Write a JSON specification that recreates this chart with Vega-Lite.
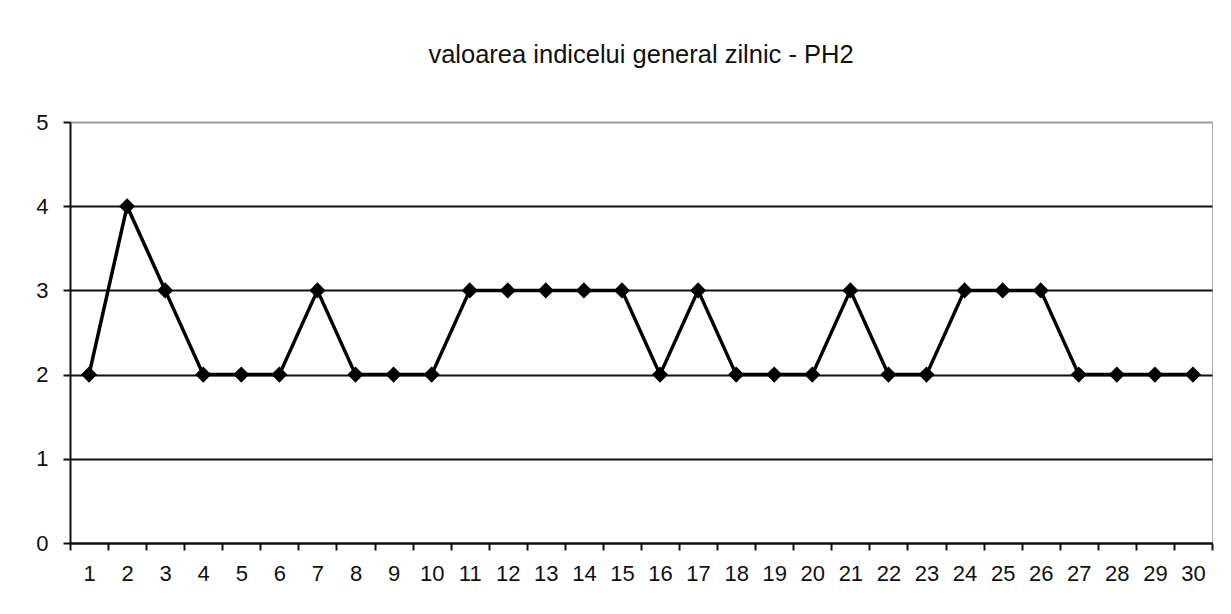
{
  "$schema": "https://vega.github.io/schema/vega-lite/v6.json",
  "autosize": {"type": "none"},
  "width": 1142,
  "height": 421,
  "padding": {"left": 70, "top": 122, "right": 19, "bottom": 71},
  "background": "white",
  "config": {
    "font": "Liberation Sans",
    "view": {"stroke": "#aaaaaa", "strokeWidth": 1}
  },
  "title": {
    "text": "valoarea indicelui general zilnic - PH2",
    "font": "Liberation Sans",
    "fontSize": 25.5,
    "fontWeight": "normal",
    "color": "#111111",
    "anchor": "middle",
    "offset": 43
  },
  "data": {
    "values": [
      {"zi": 1, "v": 2}, {"zi": 2, "v": 4}, {"zi": 3, "v": 3}, {"zi": 4, "v": 2},
      {"zi": 5, "v": 2}, {"zi": 6, "v": 2}, {"zi": 7, "v": 3}, {"zi": 8, "v": 2},
      {"zi": 9, "v": 2}, {"zi": 10, "v": 2}, {"zi": 11, "v": 3}, {"zi": 12, "v": 3},
      {"zi": 13, "v": 3}, {"zi": 14, "v": 3}, {"zi": 15, "v": 3}, {"zi": 16, "v": 2},
      {"zi": 17, "v": 3}, {"zi": 18, "v": 2}, {"zi": 19, "v": 2}, {"zi": 20, "v": 2},
      {"zi": 21, "v": 3}, {"zi": 22, "v": 2}, {"zi": 23, "v": 2}, {"zi": 24, "v": 3},
      {"zi": 25, "v": 3}, {"zi": 26, "v": 3}, {"zi": 27, "v": 2}, {"zi": 28, "v": 2},
      {"zi": 29, "v": 2}, {"zi": 30, "v": 2}
    ]
  },
  "encoding": {
    "x": {
      "field": "zi",
      "type": "ordinal",
      "scale": {"paddingInner": 0, "paddingOuter": 0},
      "axis": {
        "title": null,
        "labelAngle": 0,
        "labelFont": "Liberation Sans",
        "labelFontSize": 22,
        "labelColor": "#111111",
        "labelPadding": 13,
        "tickBand": "extent",
        "tickSize": 7,
        "tickColor": "#111111",
        "tickWidth": 2,
        "domainColor": "#111111",
        "domainWidth": 2,
        "grid": false
      }
    },
    "y": {
      "field": "v",
      "type": "quantitative",
      "scale": {"domain": [0, 5]},
      "axis": {
        "title": null,
        "values": [0, 1, 2, 3, 4, 5],
        "labelFont": "Liberation Sans",
        "labelFontSize": 22,
        "labelColor": "#111111",
        "labelPadding": 15,
        "tickSize": 7,
        "tickColor": "#111111",
        "tickWidth": 2,
        "domainColor": "#111111",
        "domainWidth": 2,
        "grid": true,
        "gridColor": {"condition": {"test": "datum.value === 5", "value": "#999999"}, "value": "#111111"},
        "gridWidth": 2,
        "gridOpacity": 1
      }
    }
  },
  "layer": [
    {"mark": {"type": "line", "color": "#000000", "strokeWidth": 3.5}},
    {"mark": {"type": "point", "shape": "diamond", "filled": true, "color": "#000000", "opacity": 1, "size": 260}}
  ]
}
